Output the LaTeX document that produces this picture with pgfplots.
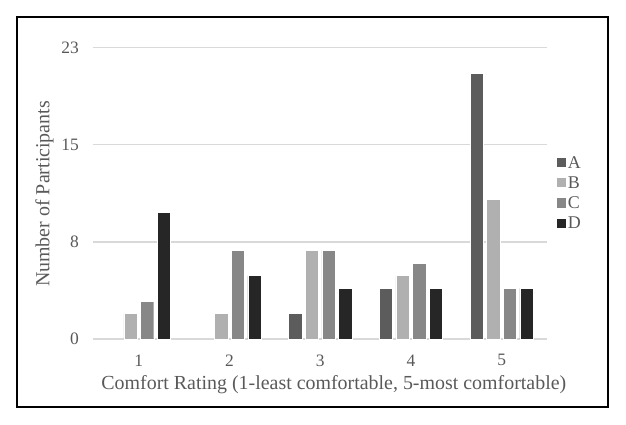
\documentclass[border=0pt]{standalone}
\usepackage{fontspec}
\setmainfont{Liberation Serif}
\usepackage{pgfplots}
\pgfplotsset{compat=1.18}
\definecolor{cA}{HTML}{5C5C5C}
\definecolor{cB}{HTML}{B0B0B0}
\definecolor{cC}{HTML}{878787}
\definecolor{cD}{HTML}{262626}
\definecolor{txt}{HTML}{595959}
\definecolor{gridc}{HTML}{D9D9D9}
\begin{document}
\begin{tikzpicture}[x=1bp,y=1bp]
\useasboundingbox (0,0) rectangle (626,424);
\draw[line width=2bp,black] (16.8,17) rectangle (608,407.3);
\begin{axis}[
  at={(93.4bp,85bp)}, anchor=origin,
  scale only axis, width=453.6bp, height=291.3bp,
  ybar=3.35bp, bar width=13.3bp,
  xmin=0.5, xmax=5.5, ymin=0, ymax=23,
  xtick={1,2,3,4,5}, xticklabels={1,2,3,4,5},
  ytick={0,7.6667,15.3333,23}, yticklabels={0,8,15,23},
  axis line style={draw=none},
  ymajorgrids, xmajorgrids=false, grid style={gridc, line width=1.3bp},
  major tick length=0pt, tick style={draw=none},
  /pgf/number format/assume math mode=true,
  yticklabel style={font=\fontsize{17.5}{17.5}\selectfont, text=txt, xshift=-11bp},
  xticklabel style={font=\fontsize{17.5}{17.5}\selectfont, text=txt, yshift=-12bp},
  xlabel={Comfort Rating (1-least comfortable, 5-most comfortable)},
  ylabel={Number of Participants},
  label style={font=\fontsize{20}{20}\selectfont, text=txt},
  xlabel style={at={(axis description cs:0.530,-0.175)}, anchor=base},
  ylabel style={at={(axis description cs:-0.0972,0.498)}, anchor=base},
  legend style={draw=none, fill=none, at={(axis description cs:1.022,0.630)}, anchor=north west,
    font=\fontsize{18}{18}\selectfont, text=txt, row sep=6.2bp, inner sep=0pt,
    nodes={inner sep=1.5bp, text height=11bp, text depth=0bp}},
  legend image code/.code={\fill[#1,draw=none] (0bp,-4.6bp) rectangle (9.3bp,4.7bp);},
  legend cell align=left,
  every axis plot/.append style={draw=white, line width=0.4bp},
  clip=false,
]
\addplot[fill=cA] coordinates {(3,2) (4,4) (5,21)};
\addplot[fill=cB] coordinates {(1,2) (2,2) (3,7) (4,5) (5,11)};
\addplot[fill=cC] coordinates {(1,3) (2,7) (3,7) (4,6) (5,4)};
\addplot[fill=cD] coordinates {(1,10) (2,5) (3,4) (4,4) (5,4)};
\legend{A,B,C,D}
\end{axis}
\end{tikzpicture}
\end{document}
